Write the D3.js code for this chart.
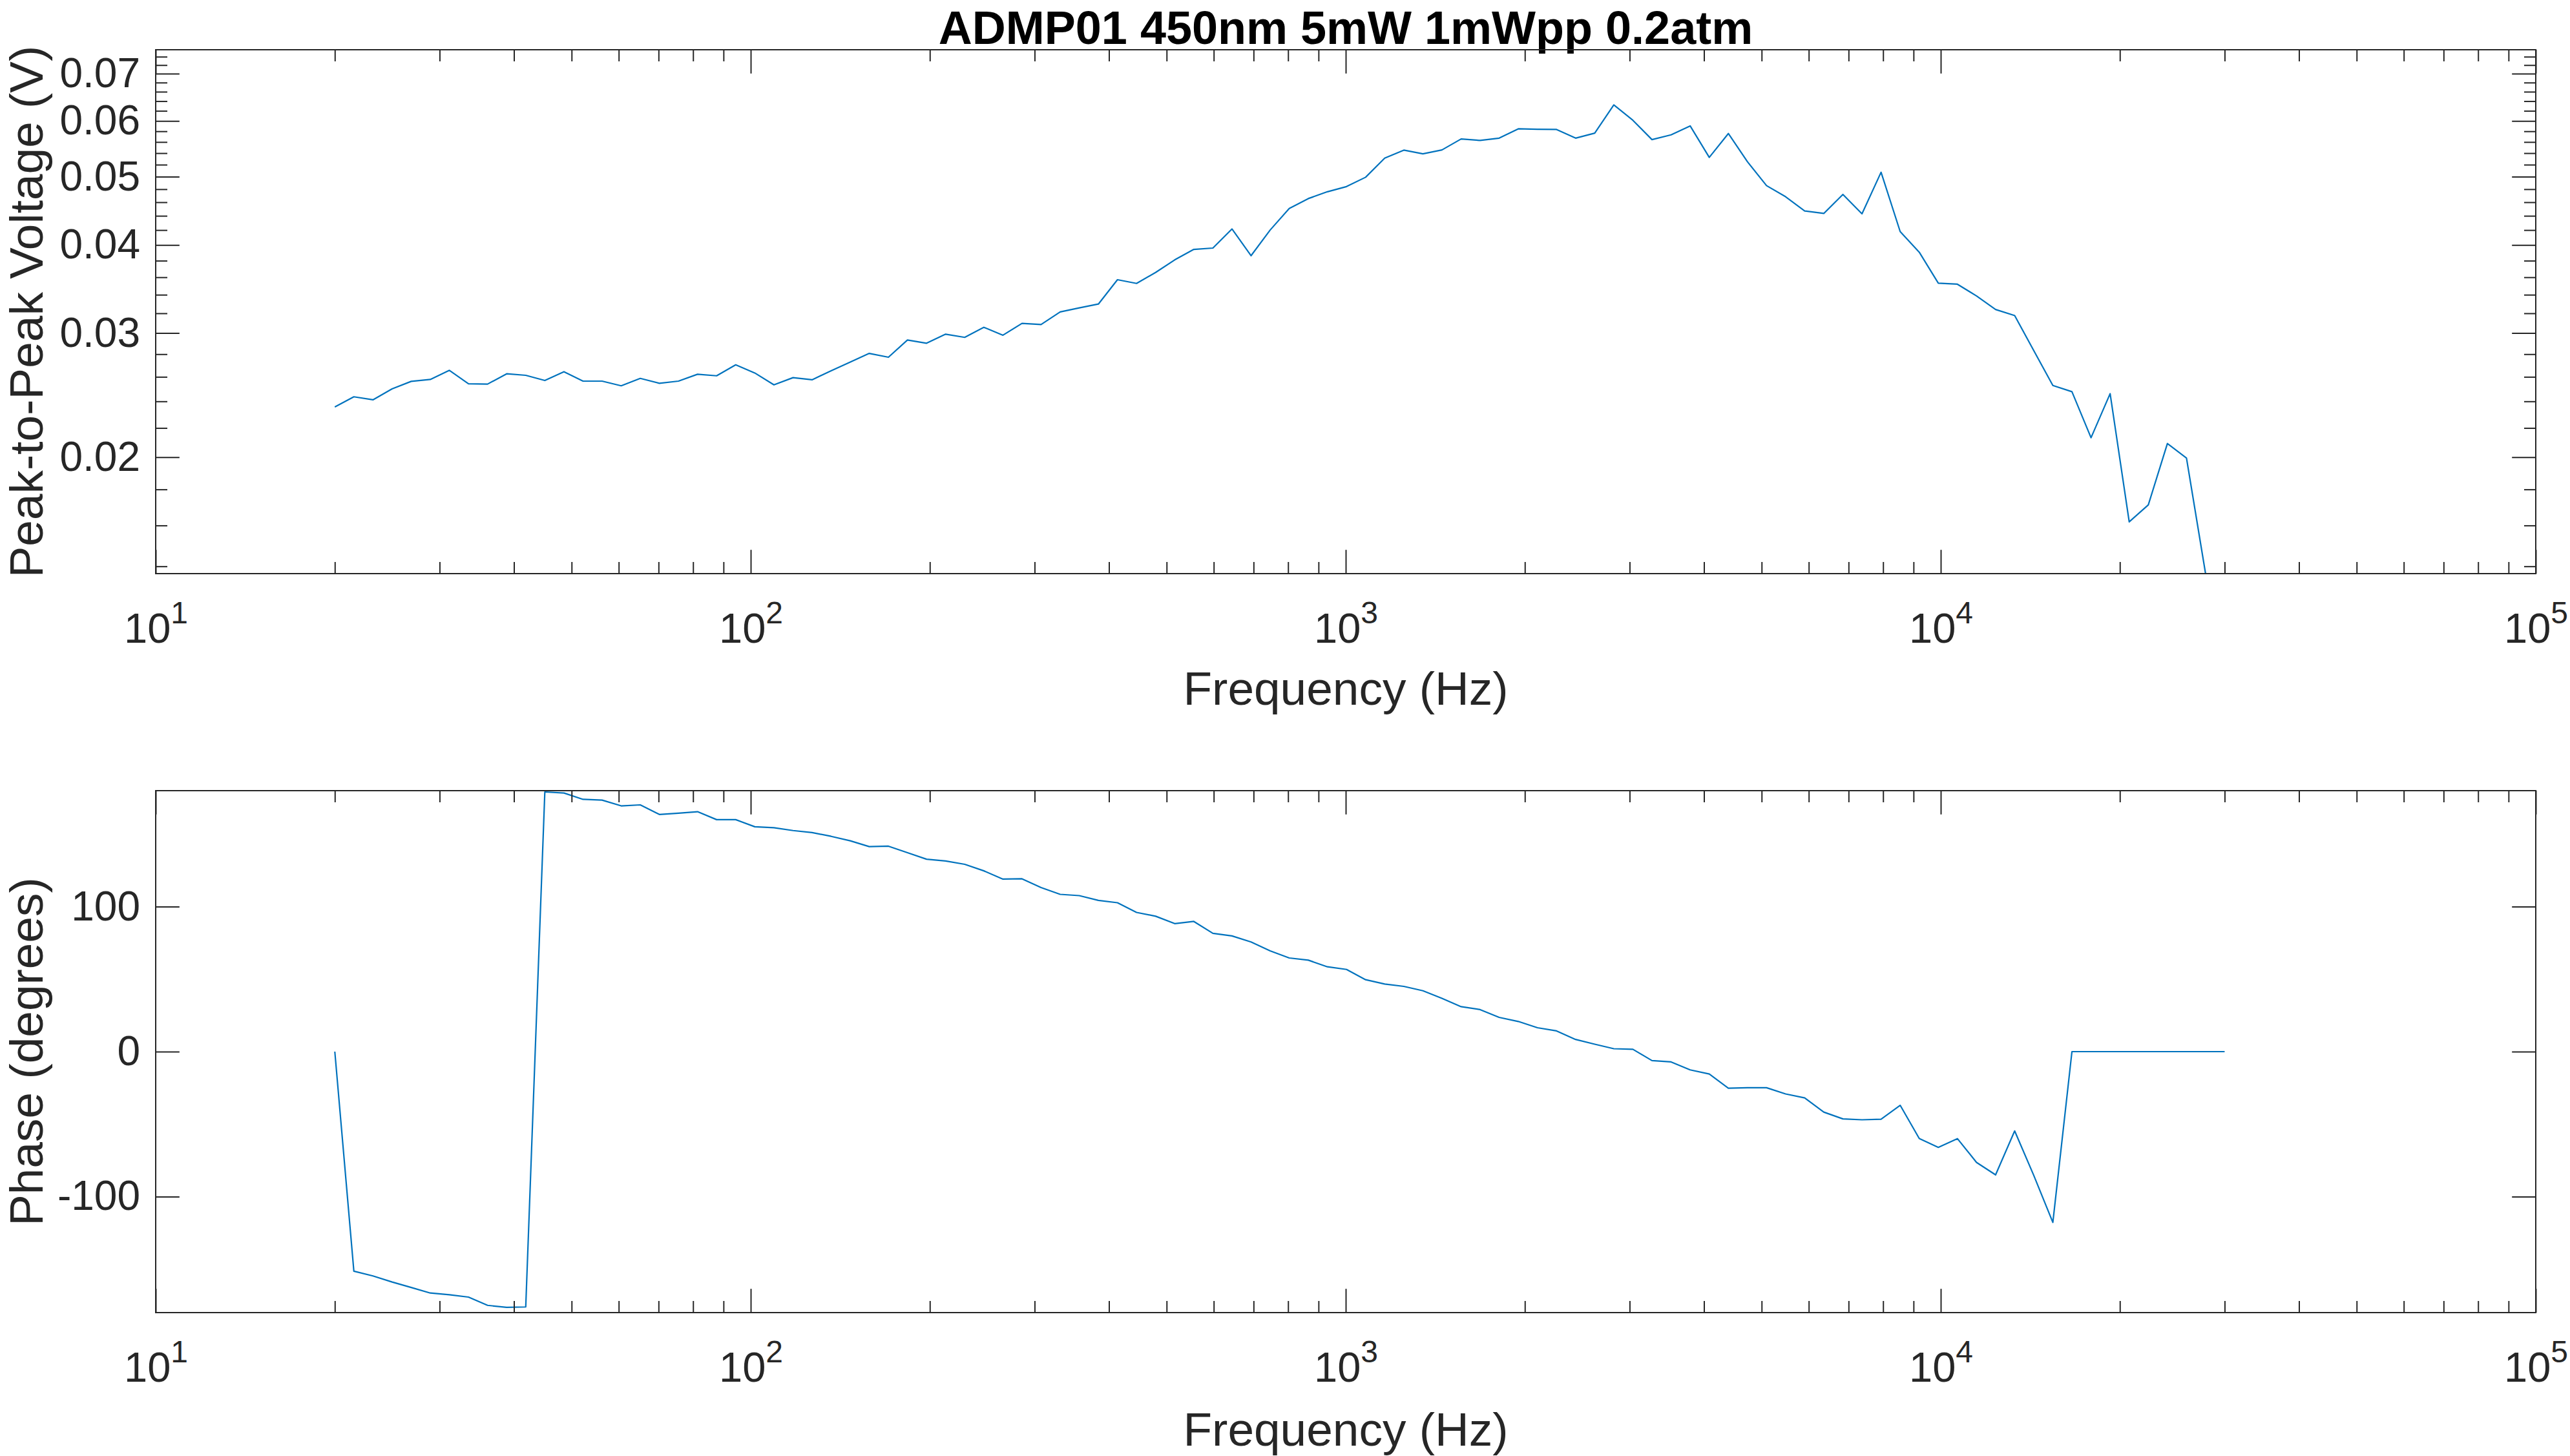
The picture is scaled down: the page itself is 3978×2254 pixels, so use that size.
<!DOCTYPE html>
<html>
<head>
<meta charset="utf-8">
<script src="https://d3js.org/d3.v7.min.js"></script>
<style>
  html, body { margin: 0; padding: 0; background: #fff; }
  text { font-family: "Liberation Sans", Arial, Helvetica, sans-serif; }
</style>
</head>
<body>
<div id="chart"></div>
<script>
// frequency sweep points (Hz)
const freqHz = [20, 21.53, 23.18, 24.96, 26.88, 28.94, 31.16, 33.55, 36.12, 38.89,
  41.87, 45.08, 48.54, 52.26, 56.26, 60.58, 65.22, 70.22, 75.61, 81.40,
  87.64, 94.36, 101.6, 109.4, 117.8, 126.8, 136.5, 147.0, 158.2, 170.4,
  183.4, 197.5, 212.6, 228.9, 246.5, 265.4, 285.7, 307.6, 331.2, 356.6,
  384.0, 413.4, 445.1, 479.2, 515.9, 555.5, 598.1, 643.9, 693.3, 746.4,
  803.6, 865.2, 931.6, 1003, 1080, 1163, 1252, 1348, 1451, 1563,
  1682, 1811, 1950, 2100, 2261, 2434, 2621, 2822, 3038, 3271,
  3522, 3792, 4083, 4396, 4733, 5096, 5486, 5907, 6360, 6848,
  7373, 7938, 8547, 9202, 9906, 10666, 11484, 12364, 13312, 14333,
  15432, 16615, 17889, 19261, 20737, 22327, 24039, 25882, 27866, 30000];

// peak-to-peak voltage (V)
const peakToPeakV = [0.02356, 0.02436, 0.02412, 0.02500, 0.02562, 0.02578, 0.02656, 0.02542, 0.02539, 0.02626,
  0.02613, 0.02569, 0.02644, 0.02564, 0.02564, 0.02525, 0.02587, 0.02546, 0.02564, 0.02622,
  0.02609, 0.02704, 0.02633, 0.02533, 0.02593, 0.02575, 0.02652, 0.02729, 0.02807, 0.02772,
  0.02932, 0.02902, 0.02989, 0.02958, 0.03057, 0.02979, 0.03096, 0.03085, 0.03214, 0.03257,
  0.03298, 0.03571, 0.03528, 0.03657, 0.03810, 0.03943, 0.03960, 0.04215, 0.03863, 0.04200,
  0.04506, 0.04655, 0.04760, 0.04841, 0.04991, 0.05313, 0.05453, 0.05388, 0.05457, 0.05656,
  0.05628, 0.05671, 0.05846, 0.05838, 0.05834, 0.05671, 0.05764, 0.06323, 0.06012, 0.05644,
  0.05733, 0.05902, 0.05326, 0.05757, 0.05250, 0.04856, 0.04683, 0.04470, 0.04434, 0.04718,
  0.04429, 0.05073, 0.04179, 0.03907, 0.03531, 0.03519, 0.03387, 0.03240, 0.03176, 0.02833,
  0.02528, 0.02477, 0.02131, 0.02461, 0.01619, 0.01711, 0.02091, 0.01994, 0.01367, 0.01367];

// phase (degrees)
const phaseDeg = [0, -151.4, -154.7, -158.9, -162.7, -166.5, -167.7, -169.3, -175.0, -176.4,
  -176.1, 179.1, 178.4, 174.0, 173.5, 169.5, 170.2, 163.6, 164.5, 165.5,
  160.0, 160.0, 155.1, 154.4, 152.5, 151.1, 148.5, 145.4, 141.4, 141.7,
  137.2, 132.7, 131.5, 129.2, 124.7, 119.0, 119.2, 113.2, 108.5, 107.6,
  104.3, 102.7, 96.0, 93.4, 88.3, 89.8, 81.6, 79.8, 75.6, 69.5,
  64.6, 63.1, 58.5, 56.7, 49.6, 46.6, 45.0, 42.0, 36.8, 31.0,
  29.0, 23.6, 20.8, 16.5, 14.3, 8.4, 5.1, 2.0, 1.6, -6.2,
  -7.1, -12.6, -15.4, -25.2, -24.9, -24.9, -29.2, -31.9, -41.7, -46.4,
  -47.0, -46.6, -37.0, -59.9, -66.0, -60.0, -76.4, -85.0, -54.7, -85.4,
  -117.8, 0, 0, 0, 0, 0, 0, 0, 0, 0];

// tick values
const xMajorTicks = [10, 100, 1000, 10000, 100000];
const xMinorTicks = [20, 30, 40, 50, 60, 70, 80, 90,
  200, 300, 400, 500, 600, 700, 800, 900,
  2000, 3000, 4000, 5000, 6000, 7000, 8000, 9000,
  20000, 30000, 40000, 50000, 60000, 70000, 80000, 90000];
const voltMajorTicks = [0.02, 0.03, 0.04, 0.05, 0.06, 0.07];
const voltMinorTicks = [0.014, 0.016, 0.018, 0.022, 0.024, 0.026, 0.028, 0.032, 0.034, 0.036, 0.038,
  0.042, 0.044, 0.046, 0.048, 0.052, 0.054, 0.056, 0.058, 0.062, 0.064, 0.066, 0.068, 0.072, 0.074];
const phaseTicks = [-100, 0, 100];

const svgWidth = 3978;
const svgHeight = 2254;

let margin = { left: 241, right: 53 };
let width = svgWidth - margin.left - margin.right;

const axisColor = "#262626";
const lineColor = "#0072BD";
const majorLen = 36.8;
const minorLen = 18;

let svg = d3.select("#chart")
  .append("svg")
  .attr("width", svgWidth)
  .attr("height", svgHeight);

svg.append("rect").attr("width", svgWidth).attr("height", svgHeight).attr("fill", "#fff");

// title
svg.append("text")
  .attr("x", margin.left + width / 2)
  .attr("y", 68)
  .attr("text-anchor", "middle")
  .attr("font-size", 72)
  .attr("font-weight", "bold")
  .attr("fill", "#000")
  .text("ADMP01 450nm 5mW 1mWpp 0.2atm");

function drawPanel(opts) {
  let top = opts.top, height = opts.height;
  let g = svg.append("g").attr("transform", `translate(${margin.left}, ${top})`);

  let x = d3.scaleLog().domain([10, 100000]).range([0, width]);
  let y = opts.yScale.range([height, 0]);

  // clip for the data line
  let clipId = "clip-" + opts.id;
  g.append("clipPath").attr("id", clipId)
    .append("rect").attr("x", 0).attr("y", -1).attr("width", width).attr("height", height + 2);

  // data line
  let line = d3.line()
    .x((d, i) => x(freqHz[i]))
    .y(d => y(d));

  g.append("path")
    .datum(opts.values)
    .attr("clip-path", `url(#${clipId})`)
    .attr("fill", "none")
    .attr("stroke", lineColor)
    .attr("stroke-width", 2.2)
    .attr("stroke-linejoin", "round")
    .attr("d", line);

  // x axis, bottom with labels
  let xBottom = g.append("g")
    .attr("transform", `translate(0, ${height})`)
    .call(d3.axisBottom(x).tickValues(xMajorTicks).tickSizeInner(-majorLen).tickSizeOuter(0)
      .tickPadding(61).tickFormat(""));

  xBottom.selectAll(".tick text")
    .attr("font-size", 65)
    .attr("fill", axisColor)
    .each(function(d) {
      let t = d3.select(this);
      t.append("tspan").text("10");
      t.append("tspan").attr("dy", -30).attr("font-size", 48).text(Math.round(Math.log10(d)));
    });

  g.append("g")
    .attr("transform", `translate(0, ${height})`)
    .call(d3.axisBottom(x).tickValues(xMinorTicks).tickSizeInner(-minorLen).tickSizeOuter(0).tickFormat(""));

  // x axis, top mirror
  g.append("g")
    .call(d3.axisTop(x).tickValues(xMajorTicks).tickSizeInner(-majorLen).tickSizeOuter(0).tickFormat(""));
  g.append("g")
    .call(d3.axisTop(x).tickValues(xMinorTicks).tickSizeInner(-minorLen).tickSizeOuter(0).tickFormat(""));

  // y axis, left with labels
  let yLeft = g.append("g")
    .call(d3.axisLeft(y).tickValues(opts.yTicks).tickSizeInner(-majorLen).tickSizeOuter(0)
      .tickPadding(24).tickFormat(opts.yFormat));

  yLeft.selectAll(".tick text")
    .attr("font-size", 64)
    .attr("fill", axisColor);

  // y axis, right mirror
  g.append("g")
    .attr("transform", `translate(${width}, 0)`)
    .call(d3.axisRight(y).tickValues(opts.yTicks).tickSizeInner(-majorLen).tickSizeOuter(0).tickFormat(""));

  if (opts.yMinor) {
    g.append("g")
      .call(d3.axisLeft(y).tickValues(opts.yMinor).tickSizeInner(-minorLen).tickSizeOuter(0).tickFormat(""));
    g.append("g")
      .attr("transform", `translate(${width}, 0)`)
      .call(d3.axisRight(y).tickValues(opts.yMinor).tickSizeInner(-minorLen).tickSizeOuter(0).tickFormat(""));
  }

  // style all the tick lines
  g.selectAll(".domain").remove();
  g.selectAll(".tick line").attr("stroke", axisColor).attr("stroke-width", 2);

  // box
  g.append("rect")
    .attr("width", width)
    .attr("height", height)
    .attr("fill", "none")
    .attr("stroke", axisColor)
    .attr("stroke-width", 2);

  // x label
  g.append("text")
    .attr("x", width / 2)
    .attr("y", opts.xLabelY - top)
    .attr("text-anchor", "middle")
    .attr("font-size", 73)
    .attr("fill", axisColor)
    .text("Frequency (Hz)");

  // y label
  g.append("text")
    .attr("transform", `translate(${66 - margin.left}, ${height / 2}) rotate(-90)`)
    .attr("text-anchor", "middle")
    .attr("font-size", 73)
    .attr("fill", axisColor)
    .text(opts.yLabel);
}

// magnitude panel
drawPanel({
  id: "mag",
  top: 77,
  height: 811,
  yScale: d3.scaleLog().domain([0.01367, 0.0757]),
  values: peakToPeakV,
  yTicks: voltMajorTicks,
  yMinor: voltMinorTicks,
  yFormat: d3.format(".2f"),
  yLabel: "Peak-to-Peak Voltage (V)",
  xLabelY: 1091
});

// phase panel
drawPanel({
  id: "phase",
  top: 1224,
  height: 808,
  yScale: d3.scaleLinear().domain([-180, 180]),
  values: phaseDeg,
  yTicks: phaseTicks,
  yMinor: null,
  yFormat: d => String(d),
  yLabel: "Phase (degrees)",
  xLabelY: 2238
});
</script>
</body>
</html>
